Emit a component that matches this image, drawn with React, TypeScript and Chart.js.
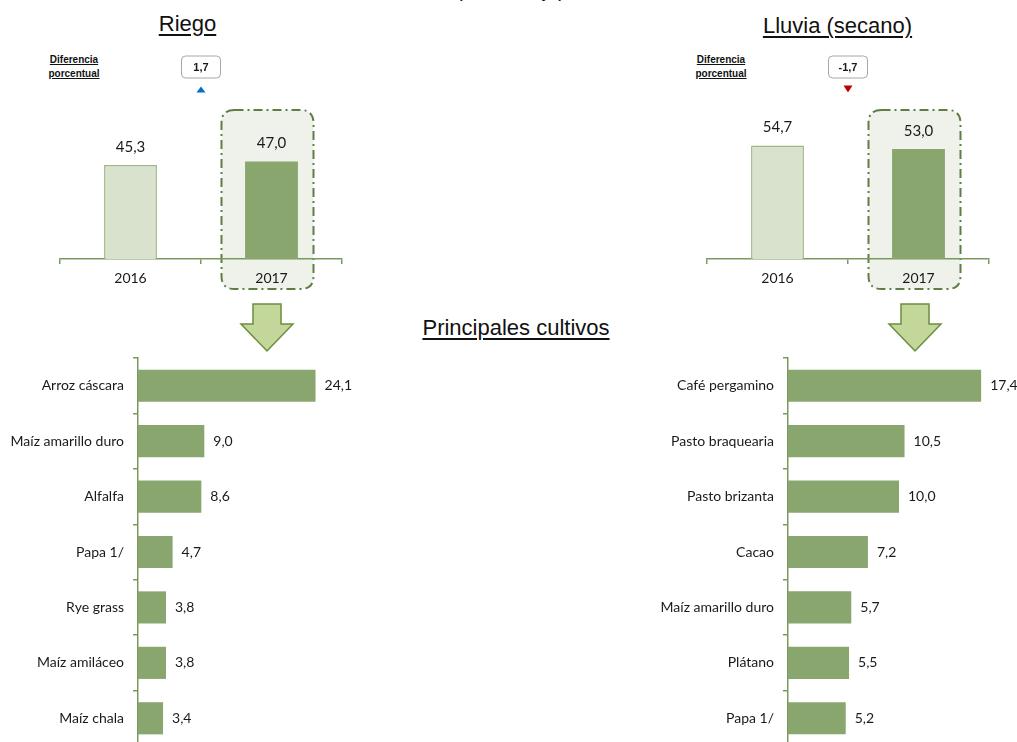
import React, { useEffect, useRef } from 'react';
import { Chart, registerables } from 'chart.js';

Chart.register(...registerables);

// ---------- data ----------
const years = ['2016', '2017'];
const riegoShares = [45.3, 47.0];
const lluviaShares = [54.7, 53.0];

const riegoCrops = ['Arroz cáscara', 'Maíz amarillo duro', 'Alfalfa', 'Papa 1/', 'Rye grass', 'Maíz amiláceo', 'Maíz chala'];
const riegoCropShares = [24.1, 9.0, 8.6, 4.7, 3.8, 3.8, 3.4];

const lluviaCrops = ['Café pergamino', 'Pasto braquearia', 'Pasto brizanta', 'Cacao', 'Maíz amarillo duro', 'Plátano', 'Papa 1/'];
const lluviaCropShares = [17.4, 10.5, 10.0, 7.2, 5.7, 5.5, 5.2];

// ---------- styles ----------
const FONT = 'Lato, "Open Sans", sans-serif';
const AXIS = '#7a995c';
const BAR = '#8aa66f';
const BAR_LIGHT = '#d8e2cd';
const BAR_LIGHT_BORDER = '#9db883';
const TEXT = '#1a1a1a';

const fmt = (v: number) => v.toFixed(1).replace('.', ',');

function roundRect(ctx: CanvasRenderingContext2D, x: number, y: number, w: number, h: number, r: number) {
  ctx.beginPath();
  ctx.moveTo(x + r, y);
  ctx.lineTo(x + w - r, y);
  ctx.quadraticCurveTo(x + w, y, x + w, y + r);
  ctx.lineTo(x + w, y + h - r);
  ctx.quadraticCurveTo(x + w, y + h, x + w - r, y + h);
  ctx.lineTo(x + r, y + h);
  ctx.quadraticCurveTo(x, y + h, x, y + h - r);
  ctx.lineTo(x, y + r);
  ctx.quadraticCurveTo(x, y, x + r, y);
  ctx.closePath();
}

function YearChart({ left, values }: { left: number; values: number[] }) {
  const ref = useRef<HTMLCanvasElement>(null);
  useEffect(() => {
    const canvas = ref.current;
    if (!canvas) return;
    const diff = values[1] - values[0];
    const deco = {
      id: 'deco',
      beforeDraw(chart: any) {
        const { ctx } = chart;
        const xs = chart.scales.x;
        const cx = xs.getPixelForValue(1) - 4;
        ctx.save();
        roundRect(ctx, cx - 46, 70, 92, 179, 13);
        ctx.fillStyle = '#eff2eb';
        ctx.fill();
        ctx.setLineDash([9, 4, 2, 4]);
        ctx.lineWidth = 2;
        ctx.strokeStyle = '#5f7e45';
        ctx.stroke();
        ctx.restore();
      },
      afterDatasetsDraw(chart: any) {
        const { ctx } = chart;
        const xs = chart.scales.x;
        const meta = chart.getDatasetMeta(0);
        ctx.save();
        ctx.font = `15px ${FONT}`;
        ctx.fillStyle = TEXT;
        ctx.textAlign = 'center';
        ctx.textBaseline = 'middle';
        meta.data.forEach((bar: any, i: number) => {
          ctx.fillText(fmt(values[i]), bar.x, bar.y - 18);
        });
        const mid = (xs.getPixelForValue(0) + xs.getPixelForValue(1)) / 2;
        roundRect(ctx, mid - 19.5, 16, 39, 22, 4);
        ctx.fillStyle = '#ffffff';
        ctx.fill();
        ctx.lineWidth = 1;
        ctx.strokeStyle = '#a6a6a6';
        ctx.stroke();
        ctx.fillStyle = TEXT;
        ctx.font = 'bold 11px "Liberation Sans", Arial, sans-serif';
        ctx.fillText(fmt(diff), mid, 27.5);
        ctx.beginPath();
        if (diff >= 0) {
          ctx.moveTo(mid - 4.5, 52.5);
          ctx.lineTo(mid + 4.5, 52.5);
          ctx.lineTo(mid, 46.5);
          ctx.fillStyle = '#0070c0';
        } else {
          ctx.moveTo(mid - 4.5, 45.5);
          ctx.lineTo(mid + 4.5, 45.5);
          ctx.lineTo(mid, 52.5);
          ctx.fillStyle = '#c00000';
        }
        ctx.closePath();
        ctx.fill();
        ctx.restore();
      },
    };
    const chart = new Chart(canvas, {
      type: 'bar',
      data: {
        labels: years,
        datasets: [
          {
            data: values,
            backgroundColor: [BAR_LIGHT, BAR],
            borderColor: [BAR_LIGHT_BORDER, BAR],
            borderWidth: [1.5, 0],
            categoryPercentage: 1,
            barPercentage: 0.375,
          },
        ],
      },
      options: {
        responsive: false,
        animation: false,
        layout: { padding: { left: 30, right: 28, top: 94.5, bottom: 11 } },
        plugins: { legend: { display: false }, tooltip: { enabled: false } },
        scales: {
          x: {
            grid: { drawOnChartArea: false, tickLength: 5, color: AXIS, lineWidth: 1.5 },
            border: { color: AXIS, width: 1.5 },
            ticks: { font: { family: FONT, size: 14 }, color: TEXT, padding: 6 },
            afterFit: (s: any) => {
              s.height = 30;
              s.paddingLeft = 0;
              s.paddingRight = 0;
            },
          },
          y: { display: false, min: 0, max: 60 },
        },
      },
      plugins: [deco],
    } as any);
    return () => chart.destroy();
  }, []);
  return (
    <canvas
      ref={ref}
      width={340}
      height={260}
      style={{ position: 'absolute', left, top: 40, width: 340, height: 260 }}
    />
  );
}

function CropChart({
  left,
  width,
  yWidth,
  padRight,
  max,
  labels,
  values,
}: {
  left: number;
  width: number;
  yWidth: number;
  padRight: number;
  max: number;
  labels: string[];
  values: number[];
}) {
  const ref = useRef<HTMLCanvasElement>(null);
  useEffect(() => {
    const canvas = ref.current;
    if (!canvas) return;
    const valueLabels = {
      id: 'valueLabels',
      afterDatasetsDraw(chart: any) {
        const { ctx } = chart;
        const meta = chart.getDatasetMeta(0);
        ctx.save();
        ctx.font = `14px ${FONT}`;
        ctx.fillStyle = TEXT;
        ctx.textAlign = 'left';
        ctx.textBaseline = 'middle';
        meta.data.forEach((bar: any, i: number) => {
          ctx.fillText(fmt(values[i]), bar.x + 9, bar.y);
        });
        ctx.restore();
      },
    };
    const chart = new Chart(canvas, {
      type: 'bar',
      data: {
        labels,
        datasets: [
          {
            data: values,
            backgroundColor: BAR,
            borderWidth: 0,
            categoryPercentage: 1,
            barPercentage: 0.58,
          },
        ],
      },
      options: {
        indexAxis: 'y',
        responsive: false,
        animation: false,
        layout: { padding: { left: 0, right: padRight, top: 10, bottom: 2 } },
        plugins: { legend: { display: false }, tooltip: { enabled: false } },
        scales: {
          x: { display: false, min: 0, max },
          y: {
            grid: { drawOnChartArea: false, tickLength: 5, color: AXIS, lineWidth: 1.5 },
            border: { color: AXIS, width: 1.5 },
            ticks: { font: { family: FONT, size: 14 }, color: TEXT, padding: 9 },
            afterFit: (s: any) => {
              s.width = yWidth;
              s.paddingTop = 0;
              s.paddingBottom = 0;
            },
          },
        },
      },
      plugins: [valueLabels],
    } as any);
    return () => chart.destroy();
  }, []);
  return (
    <canvas
      ref={ref}
      width={width}
      height={400}
      style={{ position: 'absolute', left, top: 348, width, height: 400 }}
    />
  );
}

function Arrow({ cx }: { cx: number }) {
  const pts = [
    [cx - 14, 304],
    [cx + 14, 304],
    [cx + 14, 324],
    [cx + 26, 324],
    [cx, 351],
    [cx - 26, 324],
    [cx - 14, 324],
  ]
    .map((p) => p.join(','))
    .join(' ');
  return (
    <svg style={{ position: 'absolute', left: 0, top: 0 }} width={1017} height={742}>
      <polygon points={pts} fill="#c4d79b" stroke="#6b8e3e" strokeWidth={1.5} />
    </svg>
  );
}

const titleStyle = (center: number, top: number): React.CSSProperties => ({
  position: 'absolute',
  left: center - 150,
  width: 300,
  top,
  textAlign: 'center',
  fontFamily: '"Liberation Sans", Arial, sans-serif',
  fontSize: 22,
  lineHeight: '22px',
  color: '#111',
  textDecoration: 'underline',
  textDecorationThickness: '2px',
  textUnderlineOffset: '3px',
  whiteSpace: 'nowrap',
});

const diffLabelStyle = (center: number): React.CSSProperties => ({
  position: 'absolute',
  left: center - 40,
  width: 80,
  top: 53,
  textAlign: 'center',
  fontFamily: '"Liberation Sans", Arial, sans-serif',
  fontWeight: 'bold',
  fontSize: 10,
  lineHeight: '14px',
  color: '#111',
  textDecoration: 'underline',
});

export default function App() {
  return (
    <div
      style={{
        position: 'fixed',
        left: 0,
        top: 0,
        width: 1017,
        height: 742,
        overflow: 'hidden',
        background: '#ffffff',
      }}
    >
      <div
        style={{
          position: 'absolute',
          left: 456,
          top: -20,
          fontFamily: '"Liberation Sans", Arial, sans-serif',
          fontSize: 20,
          lineHeight: '20px',
          color: '#111',
          whiteSpace: 'nowrap',
        }}
      >
        (Porcentaje)
      </div>
      <div style={titleStyle(187.5, 12.5)}>Riego</div>
      <div style={titleStyle(837.5, 14.5)}>Lluvia (secano)</div>
      <div style={titleStyle(516, 316.5)}>Principales cultivos</div>
      <div style={diffLabelStyle(74)}>
        Diferencia
        <br />
        porcentual
      </div>
      <div style={diffLabelStyle(721)}>
        Diferencia
        <br />
        porcentual
      </div>
      <Arrow cx={267} />
      <Arrow cx={915} />
      <YearChart left={30} values={riegoShares} />
      <YearChart left={677} values={lluviaShares} />
      <CropChart left={0} width={400} yWidth={138} padRight={41} max={30} labels={riegoCrops} values={riegoCropShares} />
      <CropChart left={640} width={377} yWidth={148} padRight={7} max={20} labels={lluviaCrops} values={lluviaCropShares} />
    </div>
  );
}
